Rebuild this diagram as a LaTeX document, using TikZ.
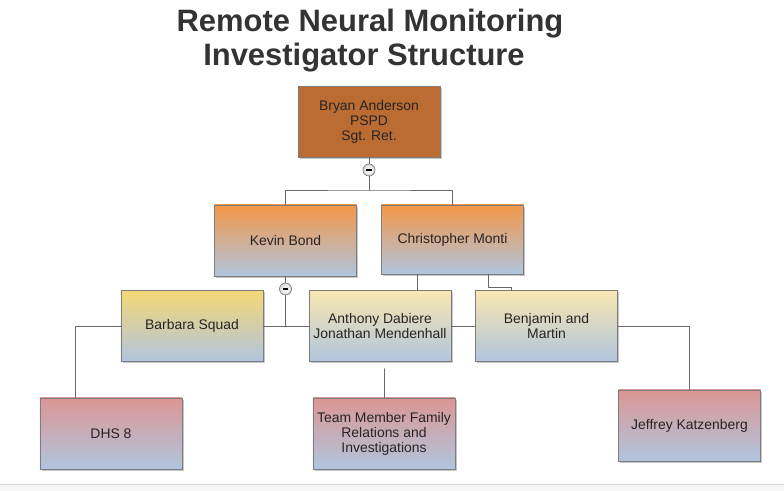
\documentclass[tikz,border=0pt]{standalone}
\usepackage{fontspec}
\setmainfont{Liberation Sans}
\usetikzlibrary{shadows}
\definecolor{rnmbrown}{RGB}{186,108,50}
\definecolor{rnmorange}{RGB}{243,151,72}
\definecolor{rnmblue}{RGB}{176,197,222}
\definecolor{rnmyellow}{RGB}{245,215,118}
\definecolor{rnmpale}{RGB}{249,231,176}
\definecolor{rnmpink}{RGB}{219,150,148}
\definecolor{rnmedge}{RGB}{125,125,125}
\definecolor{rnmline}{RGB}{105,105,105}
\definecolor{rnmtext}{RGB}{40,35,35}
\definecolor{rnmtitle}{RGB}{51,51,51}

\begin{document}
\begin{tikzpicture}[x=0.025cm,y=-0.025cm,line cap=round,
  box/.style={draw=rnmedge,line width=0.6pt,minimum width=3.55cm,minimum height=1.775cm,inner sep=2pt,align=center,
    font=\fontsize{9.9}{10.6}\selectfont,text=rnmtext,
    drop shadow={shadow xshift=1.3pt,shadow yshift=-1.3pt,opacity=0.45}},
  link/.style={draw=rnmline,line width=0.7pt},
  minus/.style={circle,draw=rnmedge,line width=0.5pt,inner color=white,outer color=gray!30,minimum size=0.3cm,inner sep=0pt},
  heading/.style={font=\fontsize{22}{26}\selectfont\bfseries,text=rnmtitle,inner sep=0pt}]
\useasboundingbox (0,0) rectangle (784,491);
\fill[gray!7] (0,484) rectangle (784,491);
\draw[gray!35,line width=0.5pt] (0,484) -- (784,484);

\node[heading] (title1) at (370,24) {Remote Neural Monitoring};
\node[heading] (title2) at (364,58) {Investigator Structure};

\node[box,fill=rnmbrown] (bryan) at (369,121.5) {Bryan Anderson\\PSPD\\Sgt. Ret.};
\node[box,top color=rnmorange,bottom color=rnmblue] (kevin) at (285.5,240.5) {Kevin Bond};
\node[box,top color=rnmorange,bottom color=rnmblue,minimum height=1.725cm] (chris) at (452.5,239.5) {Christopher Monti};
\node[box,top color=rnmyellow,bottom color=rnmblue] (barbara) at (192,326) {Barbara Squad};
\node[box,top color=rnmpale,bottom color=rnmblue] (anthony) at (380,326) {Anthony Dabiere\\Jonathan Mendenhall};
\node[box,top color=rnmpale,bottom color=rnmblue] (benjamin) at (546.5,326) {Benjamin and\\Martin};
\node[box,top color=rnmpink,bottom color=rnmblue] (dhs) at (111,433.5) {DHS 8};
\node[box,top color=rnmpink,bottom color=rnmblue] (team) at (384,433.5) {Team Member Family\\Relations and\\Investigations};
\node[box,top color=rnmpink,bottom color=rnmblue] (jeffrey) at (689.5,425.5) {Jeffrey Katzenberg};

\coordinate (j1) at (369,190);
\coordinate (j2) at (285.5,326);
\coordinate (d1) at (75,326);
\coordinate (c1) at (417,0);
\coordinate (c2) at (488,287);
\coordinate (c3) at (511,287);

\draw[link] (bryan.south) -- (j1);
\draw[link] (kevin.north) |- (j1) -| (chris.north);
\draw[link] (kevin.south) -- (j2);
\draw[link] (barbara.east) -- (anthony.west);
\draw[link] (anthony.east) -- (benjamin.west);
\draw[link] (barbara.west) -- (d1) -- (d1 |- dhs.north);
\draw[link] (benjamin.east) -| (jeffrey.north);
\draw[link] (chris.south -| c1) -- (anthony.north -| c1);
\draw[link] (chris.south -| c2) -- (c2) -- (c3) -- (benjamin.north -| c3);
\draw[link] ([yshift=-5pt]anthony.south -| team.north) -- (team.north);

\node[minus] (fold1) at (369,170) {\rule{3.6pt}{1.5pt}};
\node[minus] (fold2) at (285.5,289) {\rule{3.6pt}{1.5pt}};
\end{tikzpicture}
\end{document}
